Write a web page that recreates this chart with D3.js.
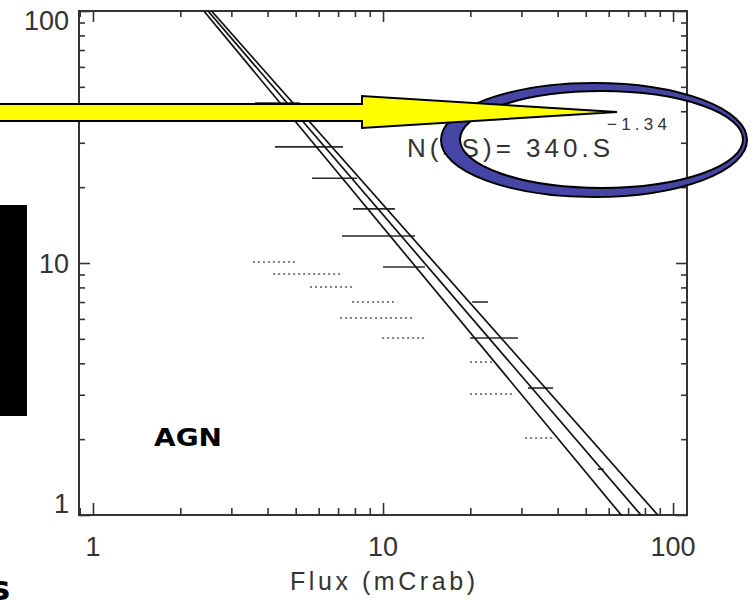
<!DOCTYPE html>
<html>
<head>
<meta charset="utf-8" />
<script src="https://cdn.jsdelivr.net/npm/d3@7"></script>
<style>
html, body { margin: 0; padding: 0; background: #fff; overflow: hidden; }
</style>
</head>
<body>
<div id="chart"></div>
<script>
// Binned counts, solid bars: flux range (mCrab) and N(>S)
var barLo = [3.62, 4.24, 5.69, 7.88, 7.22, 10.0, 20.3, 19.95, 31.6, 55.1];
var barHi = [5.17, 7.28, 8.13, 11.0, 12.9, 13.95, 23.0, 29.2, 38.6, 57.6];
var barN = [43.1, 28.9, 21.7, 16.4, 12.8, 9.64, 7.0, 5.04, 3.19, 1.52];

// Dotted bars
var dotLo = [3.56, 4.18, 5.60, 7.82, 7.11, 9.93, 19.95, 19.95, 30.9];
var dotHi = [5.05, 7.11, 7.82, 11.2, 12.6, 14.1, 23.8, 28.1, 39.2];
var dotN = [10.1, 9.04, 8.03, 7.0, 6.05, 5.04, 4.05, 3.02, 2.02];

// Power law fits N(>S) = norm * S^index
var fitNorm = [340, 340, 340];
var fitIndex = [-1.30, -1.34, -1.39];

var xLabels = [1, 10, 100];
var yLabels = [1, 10, 100];

var width = 754, height = 600;
var plotLeft = 79, plotRight = 687, plotTop = 11, plotBottom = 515;
var axisColor = '#333';

var x = d3.scaleLog().domain([0.895, 111.7]).range([plotLeft, plotRight]);
var y = d3.scaleLog().domain([1, 100]).range([plotBottom, plotTop]);

var svg = d3.select('#chart')
    .append('svg')
    .attr('width', width)
    .attr('height', height)
    .style('font-family', '"Liberation Sans", Arial, sans-serif');

svg.append('defs').append('clipPath')
    .attr('id', 'plot')
    .append('rect')
    .attr('x', plotLeft).attr('y', plotTop)
    .attr('width', plotRight - plotLeft).attr('height', plotBottom - plotTop);

function isMajor(v) {
    var l = Math.log10(v);
    return Math.abs(l - Math.round(l)) < 1e-9;
}
var xMajor = x.ticks().filter(isMajor);
var xMinor = x.ticks().filter(function (v) { return !isMajor(v); });
var yMajor = y.ticks().filter(isMajor);
var yMinor = y.ticks().filter(function (v) { return !isMajor(v); });

// inward ticks on all four sides (IDL style)
function drawAxis(axisFn, scale, vals, size, tx, ty) {
    var g = svg.append('g')
        .attr('transform', 'translate(' + tx + ',' + ty + ')')
        .call(axisFn(scale).tickValues(vals).tickSize(size).tickFormat(''));
    g.select('.domain').remove();
    g.selectAll('line').attr('stroke', axisColor).attr('stroke-width', 1.6);
}
drawAxis(d3.axisBottom, x, xMajor, -12, 0, plotBottom);
drawAxis(d3.axisBottom, x, xMinor, -7, 0, plotBottom);
drawAxis(d3.axisTop, x, xMajor, -11, 0, plotTop);
drawAxis(d3.axisTop, x, xMinor, -6, 0, plotTop);
drawAxis(d3.axisLeft, y, yMajor, -11, plotLeft, 0);
drawAxis(d3.axisLeft, y, yMinor, -6, plotLeft, 0);
drawAxis(d3.axisRight, y, yMajor, -11, plotRight, 0);
drawAxis(d3.axisRight, y, yMinor, -6, plotRight, 0);

svg.append('rect')
    .attr('x', plotLeft).attr('y', plotTop)
    .attr('width', plotRight - plotLeft).attr('height', plotBottom - plotTop)
    .attr('fill', 'none')
    .attr('stroke', axisColor)
    .attr('stroke-width', 2);

// tick labels
svg.selectAll('.xlab')
    .data(xLabels)
    .enter().append('text')
    .attr('x', function (d) { return x(d); })
    .attr('y', 556)
    .attr('text-anchor', 'middle')
    .attr('font-size', 27)
    .attr('fill', '#333')
    .text(function (d) { return d; });

svg.selectAll('.ylab')
    .data(yLabels)
    .enter().append('text')
    .attr('x', 69)
    .attr('y', function (d) { return Math.min(Math.max(y(d), plotTop + 9), plotBottom - 12); })
    .attr('dy', '0.36em')
    .attr('text-anchor', 'end')
    .attr('font-size', 27)
    .attr('fill', '#333')
    .text(function (d) { return d; });

svg.append('text')
    .attr('x', 290)
    .attr('y', 590)
    .attr('font-size', 25)
    .attr('fill', '#333')
    .attr('textLength', 185)
    .attr('lengthAdjust', 'spacing')
    .text('Flux (mCrab)');

var plot = svg.append('g').attr('clip-path', 'url(#plot)');

// dotted bars
plot.selectAll('.dot')
    .data(dotN)
    .enter().append('line')
    .attr('x1', function (d, i) { return x(dotLo[i]); })
    .attr('x2', function (d, i) { return x(dotHi[i]); })
    .attr('y1', function (d) { return y(d); })
    .attr('y2', function (d) { return y(d); })
    .attr('stroke', '#555')
    .attr('stroke-width', 1.5)
    .attr('stroke-dasharray', '2,3');

// solid bars
plot.selectAll('.bar')
    .data(barN)
    .enter().append('line')
    .attr('x1', function (d, i) { return x(barLo[i]); })
    .attr('x2', function (d, i) { return x(barHi[i]); })
    .attr('y1', function (d) { return y(d); })
    .attr('y2', function (d) { return y(d); })
    .attr('stroke', '#2a2a2a')
    .attr('stroke-width', 1.6);

// fit lines (straight in log-log, so the domain ends are enough)
var line = d3.line()
    .x(function (d) { return x(d[0]); })
    .y(function (d) { return y(d[1]); });

fitIndex.forEach(function (a, i) {
    var pts = x.domain().map(function (s) { return [s, fitNorm[i] * Math.pow(s, a)]; });
    plot.append('path')
        .attr('d', line(pts))
        .attr('fill', 'none')
        .attr('stroke', '#111')
        .attr('stroke-width', 1.7);
});

// annotations
svg.append('text')
    .attr('x', 407)
    .attr('y', 157)
    .attr('font-size', 26)
    .attr('fill', '#333')
    .attr('textLength', 203)
    .attr('lengthAdjust', 'spacing')
    .text('N(>S)=  340.S');

svg.append('text')
    .attr('x', 607)
    .attr('y', 130)
    .attr('font-size', 17)
    .attr('fill', '#333')
    .attr('textLength', 60)
    .attr('lengthAdjust', 'spacing')
    .text('\u22121.34');

svg.append('text')
    .attr('x', 154)
    .attr('y', 446)
    .attr('font-family', '"DejaVu Sans", sans-serif')
    .attr('font-weight', 'bold')
    .attr('font-size', 25)
    .attr('fill', '#000')
    .attr('textLength', 68)
    .attr('lengthAdjust', 'spacingAndGlyphs')
    .text('AGN');

svg.append('rect')
    .attr('x', 0).attr('y', 205)
    .attr('width', 27).attr('height', 211)
    .attr('fill', '#000');

svg.append('text')
    .attr('x', -10)
    .attr('y', 600)
    .attr('font-family', '"DejaVu Sans", sans-serif')
    .attr('font-weight', 'bold')
    .attr('font-size', 34)
    .attr('fill', '#000')
    .text('s');

// blue ring (crescent) round the formula
function ellipse(cx, cy, rx, ry) {
    return 'M' + (cx - rx) + ',' + cy +
        'a' + rx + ',' + ry + ' 0 1,0 ' + (2 * rx) + ',0' +
        'a' + rx + ',' + ry + ' 0 1,0 ' + (-2 * rx) + ',0Z';
}
svg.append('path')
    .attr('d', ellipse(594, 140, 153, 57) + ellipse(601.5, 139.5, 141.5, 48.5))
    .attr('fill', '#4545a5')
    .attr('fill-rule', 'evenodd')
    .attr('stroke', '#000')
    .attr('stroke-width', 2);

// yellow arrow
svg.append('path')
    .attr('d', 'M-5,104L362,104L362,96L617,112L362,128L362,121L-5,121Z')
    .attr('fill', '#ffff00')
    .attr('stroke', '#000')
    .attr('stroke-width', 2)
    .attr('stroke-linejoin', 'miter');
</script>
</body>
</html>
